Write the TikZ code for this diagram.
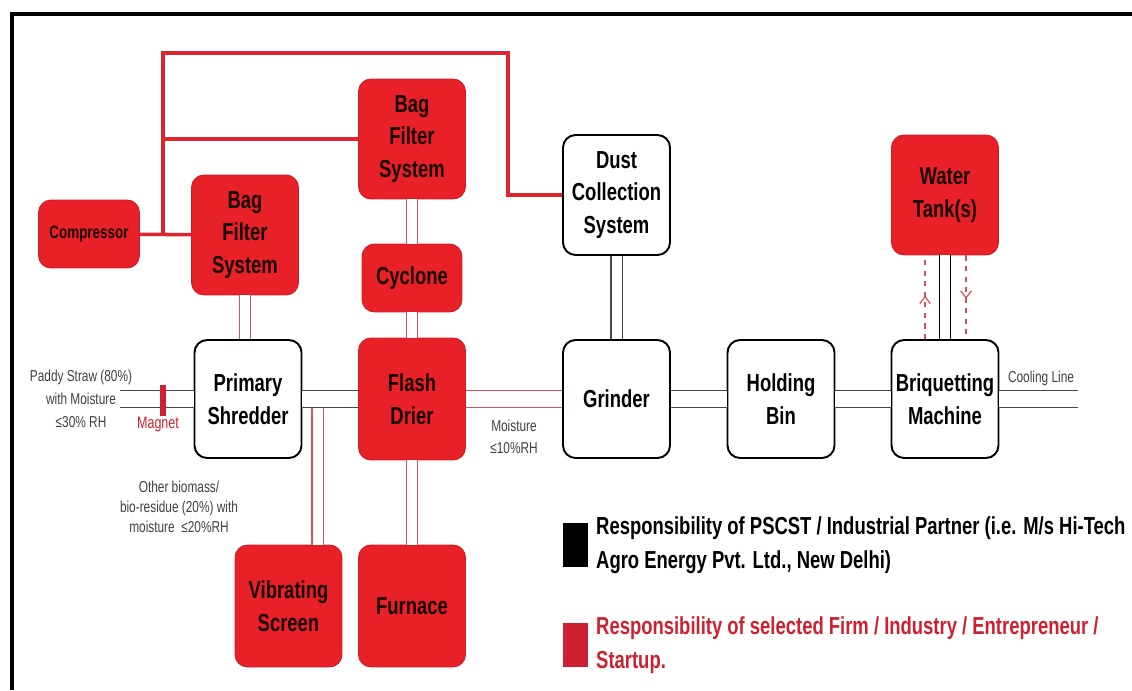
\documentclass[tikz,border=0pt]{standalone}
\usepackage{fontspec}
\setmainfont{Liberation Sans}[FakeStretch=0.75]
\usepackage{tikz}
\usetikzlibrary{positioning, arrows.meta, decorations.markings}
\definecolor{firmred}{RGB}{232,32,40}
\definecolor{airred}{RGB}{222,36,44}
\definecolor{pipered}{RGB}{206,84,92}
\definecolor{pipegray}{RGB}{70,70,70}
\definecolor{keyred}{RGB}{206,32,48}
\tikzset{
unit/.style={draw=black, line width=1.1pt, fill=white, rounded corners=0.25cm,
  minimum width=2.14cm, minimum height=2.4cm, align=center, inner sep=1pt,
  font=\bfseries\fontsize{14}{18.5}\selectfont},
firm/.style={unit, draw=firmred!88!black, line width=0.5pt, fill=firmred, text=black!90!red},
air/.style={draw=airred, line width=2pt},
hpipe/.style={draw=pipegray, line width=0.75pt, double=white, double distance=0.32cm},
vpipe/.style={hpipe, double distance=0.2cm},
redhpipe/.style={hpipe, draw=pipered},
redvpipe/.style={vpipe, draw=pipered},
coolant/.style={draw=pipered, line width=0.7pt, dashed,
  postaction={decorate, decoration={markings,
    mark=at position 0.52 with {\arrow{Straight Barb[length=4pt,width=6pt]}}}}},
note/.style={inner sep=0pt, align=center, text=black!75, font=\fontsize{9}{13}\selectfont},
legbox/.style={minimum width=0.5cm, minimum height=0.88cm, inner sep=0pt},
legtext/.style={inner sep=0pt, align=left, font=\bfseries\fontsize{14}{19}\selectfont}
}

\begin{document}
\begin{tikzpicture}[x=0.02cm, y=-0.02cm]
\useasboundingbox (0,0) rectangle (1132,690);
\draw[line width=2pt] (12,690) -- (12,14) -- (1132,14);

% process units
\node[firm, minimum width=2.02cm, minimum height=1.36cm, font=\bfseries\fontsize{10.2}{12}\selectfont] (comp) at (89,234) {Compressor};
\node[firm] (bfl) at (245,235) {Bag\\Filter\\System};
\node[firm] (bft) at (412,139) {Bag\\Filter\\System};
\node[firm, minimum width=2cm, minimum height=1.36cm] (cyc) at (412,278) {Cyclone};
\node[unit] (dust) at (616.5,195) {Dust\\Collection\\System};
\node[firm] (water) at (945,195) {Water\\Tank(s)};
\node[unit, minimum height=2.36cm] (shred) at (248,399) {Primary\\Shredder};
\node[firm, minimum height=2.44cm] (drier) at (412,399) {Flash\\Drier};
\node[unit, minimum height=2.36cm] (grind) at (616.5,399) {Grinder};
\node[unit, minimum height=2.36cm] (bin) at (781,399) {Holding\\Bin};
\node[unit, minimum height=2.36cm] (briq) at (945,399) {Briquetting\\Machine};
\node[firm, minimum height=2.44cm] (vscreen) at (288.5,606) {Vibrating\\Screen};
\node[firm, minimum height=2.44cm] (furn) at (412,606) {Furnace};

% compressed air lines
\coordinate (j1) at (163,234);
\coordinate (j2) at (163,139);
\coordinate (j4) at (508,53);
\draw[air] (comp) -- (bfl);
\draw[air] (j1) |- (j4) |- (dust);
\draw[air] (j2) -- (bft);

% material lines
\coordinate (feed) at (120,399);
\coordinate (vtap) at (317.5,399);
\coordinate (out) at (1078,399);
\draw[redvpipe] (bfl.south) -- (bfl.south |- shred.north);
\draw[redvpipe] (bft) -- (cyc);
\draw[redvpipe] (cyc) -- (drier);
\draw[redvpipe] (drier) -- (furn);
\draw[redvpipe] (vtap) -- (vtap |- vscreen.north);
\draw[hpipe] (feed) -- (shred);
\draw[hpipe] (shred) -- (drier);
\draw[redhpipe] (drier) -- (grind);
\draw[vpipe] (dust) -- (grind);
\draw[hpipe] (grind) -- (bin);
\draw[hpipe] (bin) -- (briq);
\draw[hpipe] (briq) -- (out);
\draw[vpipe, draw=black] (water) -- (briq);
\draw[coolant] ([xshift=-0.4cm]briq.north) -- ([xshift=-0.4cm]water.south);
\draw[coolant] ([xshift=0.42cm]water.south) -- ([xshift=0.42cm]briq.north);
\node[fill=keyred, minimum width=0.12cm, minimum height=0.62cm, inner sep=0pt] (mag) at (163,400) {};

% labels
\node[note] (paddy) at (81,399) {Paddy Straw (80\%)\\with Moisture\\≤30\% RH};
\node[note, text=keyred, font=\fontsize{9.5}{11}\selectfont] (magtext) at (158,424) {Magnet};
\node[note, font=\fontsize{9}{11.5}\selectfont] (other) at (179,507) {Other biomass/\\bio-residue (20\%) with\\moisture~~≤20\%RH};
\node[note, font=\fontsize{9}{12.5}\selectfont] (dry) at (514,437) {Moisture\\≤10\%RH};
\node[note] (cool) at (1041,378) {Cooling Line};

% legend
\node[legbox, fill=black] (keyblack) at (575,545) {};
\node[legtext, right=0.16cm of keyblack] (keyblacktext) {Responsibility of PSCST / Industrial Partner (i.e. M/s Hi-Tech\\Agro Energy Pvt. Ltd., New Delhi)};
\node[legbox, fill=keyred] (keyred) at (575,645) {};
\node[legtext, text=keyred, right=0.16cm of keyred] (keyredtext) {Responsibility of selected Firm / Industry / Entrepreneur /\\Startup.};
\end{tikzpicture}
\end{document}
